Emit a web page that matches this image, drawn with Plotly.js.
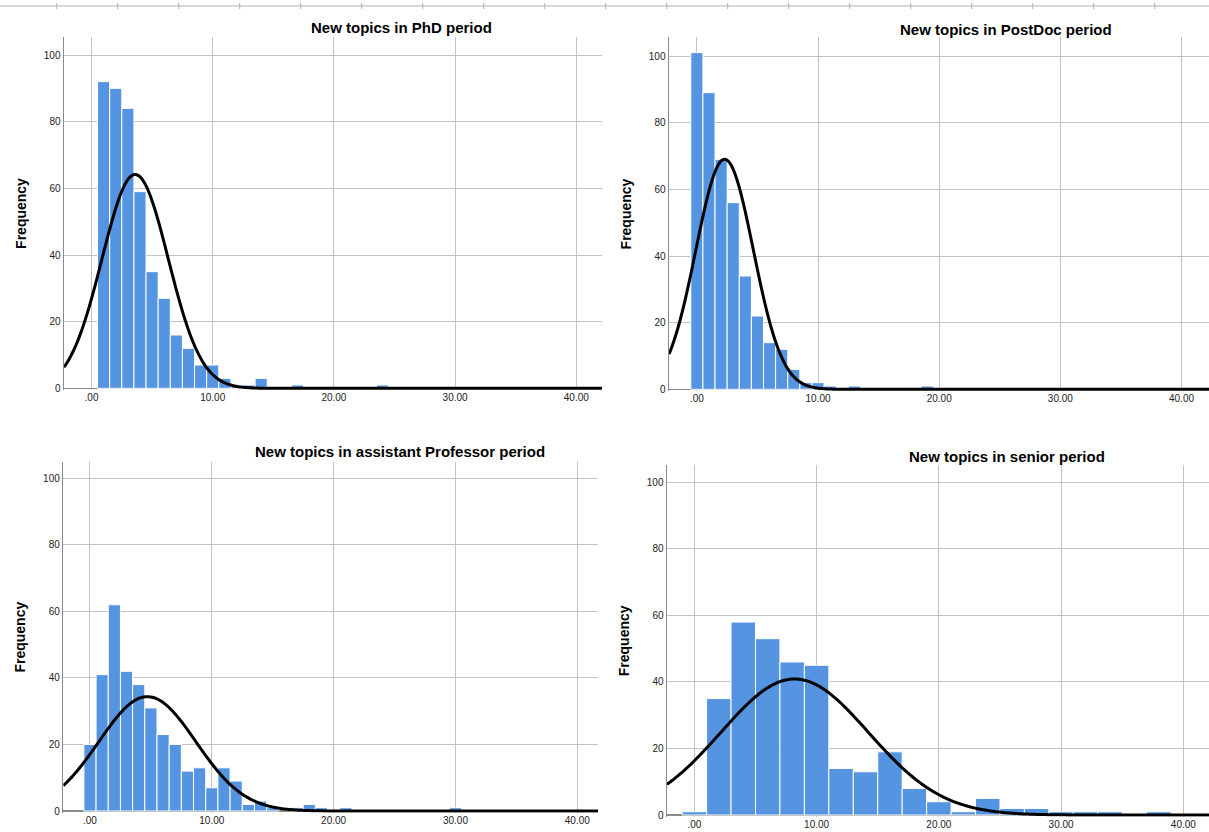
<!DOCTYPE html>
<html>
<head>
<meta charset="utf-8">
<script src="https://cdn.plot.ly/plotly-3.0.1.min.js"></script>
<style>html,body{margin:0;padding:0;background:#fff;}#chart{width:1209px;height:832px;}</style>
</head>
<body>
<div id="chart"></div>
<script>
// ---- data ----
const panelTitles = ['New topics in PhD period', 'New topics in PostDoc period',
                     'New topics in assistant Professor period', 'New topics in senior period'];
const phdBins = [1,2,3,4,5,6,7,8,9,10,11,12,13,14,17,24];
const phdCounts = [92,90,84,59,35,27,16,12,7,7,3,1,1,3,1,1];
const postdocBins = [0,1,2,3,4,5,6,7,8,9,10,11,13,19];
const postdocCounts = [101,89,69,56,34,22,14,12,6,2,2,1,1,1];
const asstBins = [0,1,2,3,4,5,6,7,8,9,10,11,12,13,14,15,17,18,19,21,30];
const asstCounts = [20,41,62,42,38,31,23,20,12,13,7,13,9,2,3,1,1,2,1,1,1];
const seniorBins = [0,2,4,6,8,10,12,14,16,18,20,22,24,26,28,30,32,34,38];
const seniorCounts = [1,35,58,53,46,45,14,13,19,8,4,1,5,2,2,1,1,1,1];
const binWidths = [1,1,1,2];
// normal-curve parameters (mean, std. deviation)
const fitMeans = [3.6, 2.29, 4.71, 8.2];
const fitSDs = [2.73, 2.37, 3.98, 6.05];
const xTickVals = [0,10,20,30,40];
const xTickText = ['.00','10.00','20.00','30.00','40.00'];
const yTickVals = [0,20,40,60,80,100];

// ---- layout geometry (pixels) ----
const W = 1209, H = 832;
const FONT = 'Liberation Sans, Arial, sans-serif';
const binsAll = [phdBins, postdocBins, asstBins, seniorBins];
const countsAll = [phdCounts, postdocCounts, asstCounts, seniorCounts];
const geo = [
  {x0:64,  x1:602,  yb:390,   yt:37,    xr:[-2.27,42.12], yr:[-0.5,105.4], tx:401,  ty:28},
  {x0:669, x1:1209, yb:391,   yt:37,    xr:[-2.3,42.27],  yr:[-0.5,105.7], tx:1006, ty:30},
  {x0:63.3,x1:598,  yb:812.7, yt:461.7, xr:[-2.19,41.7],  yr:[-0.5,105.0], tx:400,  ty:452},
  {x0:667, x1:1209, yb:816.7, yt:465,   xr:[-2.24,42.1],  yr:[-0.5,105.2], tx:1007, ty:456}
];

const traces = [];
const layout = {
  width: W, height: H,
  margin: {l:0, r:0, t:0, b:0},
  paper_bgcolor: '#ffffff', plot_bgcolor: '#ffffff',
  showlegend: false,
  bargap: 0,
  annotations: [],
  shapes: []
};

for (let i = 0; i < 4; i++) {
  const g = geo[i];
  const sfx = i === 0 ? '' : String(i + 1);
  const xa = 'x' + sfx, ya = 'y' + sfx;
  const bins = binsAll[i], counts = countsAll[i];
  const w = binWidths[i];
  traces.push({
    type: 'bar', x: bins, y: counts, width: bins.map(() => w),
    xaxis: xa, yaxis: ya,
    marker: {color: '#5494e0', line: {color: '#ffffff', width: 1}},
    hoverinfo: 'x+y'
  });
  // fitted normal curve scaled to counts
  const N = counts.reduce((a, b) => a + b, 0);
  const m = fitMeans[i], s = fitSDs[i];
  const cx = [], cy = [];
  const steps = 300;
  for (let k = 0; k <= steps; k++) {
    const xv = g.xr[0] + (g.xr[1] - g.xr[0]) * k / steps;
    cx.push(xv);
    cy.push(N * w / (s * Math.sqrt(2 * Math.PI)) * Math.exp(-0.5 * Math.pow((xv - m) / s, 2)));
  }
  traces.push({
    type: 'scatter', mode: 'lines', x: cx, y: cy, xaxis: xa, yaxis: ya,
    line: {color: '#000000', width: 3, shape: 'spline'}, hoverinfo: 'skip'
  });

  layout['xaxis' + sfx] = {
    domain: [g.x0 / W, g.x1 / W], anchor: ya, range: g.xr,
    tickvals: xTickVals, ticktext: xTickText, ticks: '',
    showgrid: true, gridcolor: '#c2c2c2', gridwidth: 1,
    zeroline: false, showline: false,
    tickfont: {family: FONT, size: 10, color: '#222'},
    fixedrange: true
  };
  layout['yaxis' + sfx] = {
    domain: [1 - g.yb / H, 1 - g.yt / H], anchor: xa, range: g.yr,
    tickvals: yTickVals, ticks: '',
    showgrid: true, gridcolor: '#c2c2c2', gridwidth: 1,
    zeroline: true, zerolinecolor: '#8a8a8a', zerolinewidth: 1.5,
    showline: true, linecolor: '#8a8a8a', linewidth: 1.5,
    tickfont: {family: FONT, size: 10, color: '#222'},
    title: {text: 'Frequency', font: {family: FONT, size: 14, color: '#000', weight: 'bold'}, standoff: 14},
    fixedrange: true
  };
  layout.annotations.push({
    text: '<b>' + panelTitles[i] + '</b>', xref: 'paper', yref: 'paper',
    x: g.tx / W, y: 1 - g.ty / H, xanchor: 'center', yanchor: 'middle',
    showarrow: false, font: {family: FONT, size: 15, color: '#000'}
  });
}

// top ruler decoration
layout.shapes.push({type: 'line', xref: 'paper', yref: 'paper', x0: 0, x1: 1,
  y0: 1 - 6 / H, y1: 1 - 6 / H, line: {color: '#d8d8d8', width: 2}});
for (let px = 56.7; px < W; px += 61) {
  layout.shapes.push({type: 'line', xref: 'paper', yref: 'paper', x0: px / W, x1: px / W,
    y0: 1 - 3 / H, y1: 1 - 9 / H, line: {color: '#b0b0b0', width: 1}});
}

Plotly.newPlot('chart', traces, layout, {staticPlot: true, displayModeBar: false});
</script>
</body>
</html>
